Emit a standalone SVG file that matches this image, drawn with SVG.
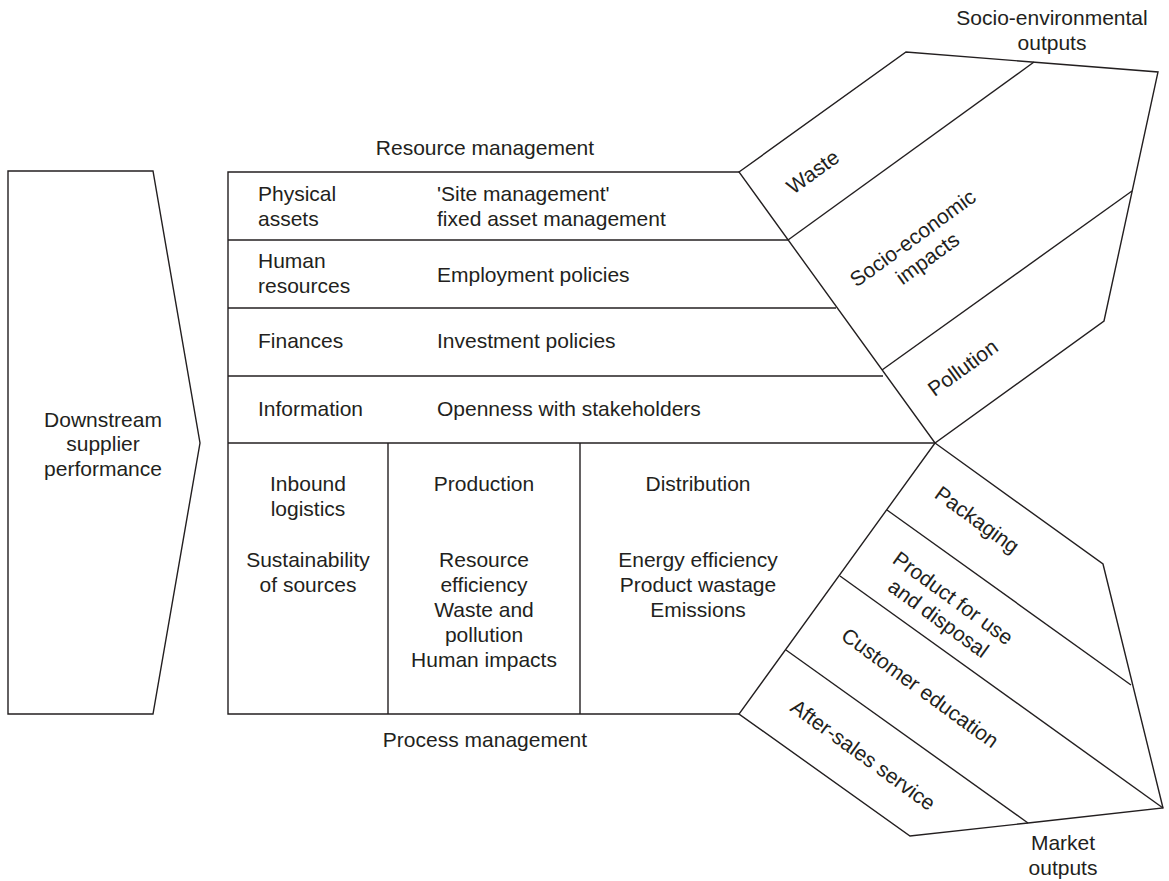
<svg xmlns="http://www.w3.org/2000/svg" width="1169" height="881" viewBox="0 0 1169 881">
<style>
.ln{fill:none;stroke:#231f20;stroke-width:1.4;stroke-linejoin:miter}
.t{font-family:"Liberation Sans",Arial,sans-serif;font-size:21px;fill:#231f20}
.m{text-anchor:middle}
</style>
<rect width="1169" height="881" fill="#fff"/>
<g id="supplier">
<polygon class="ln" points="8,171 153,171 200,443 153,714 8,714"/>
<text class="t m"><tspan x="103" y="427">Downstream</tspan><tspan x="103" y="451">supplier</tspan><tspan x="103" y="476">performance</tspan></text>
</g>
<g id="connectors">
<polyline class="ln" points="739,172 228,172 228,714 739,714"/>
<line class="ln" x1="228" y1="240" x2="788" y2="240"/>
<line class="ln" x1="228" y1="308" x2="836" y2="308"/>
<line class="ln" x1="228" y1="376" x2="883" y2="376"/>
<line class="ln" x1="228" y1="443" x2="935" y2="443"/>
<line class="ln" x1="388" y1="443" x2="388" y2="714"/>
<line class="ln" x1="580" y1="443" x2="580" y2="714"/>
<polygon class="ln" points="739,172 906,52 1158,72 1104,321 935,443"/>
<line class="ln" x1="788" y1="240" x2="1034" y2="62"/>
<line class="ln" x1="882" y1="370" x2="1132" y2="191"/>
<polygon class="ln" points="935,443 1103,564 1163,808 1028,823 910,836 739,714"/>
<line class="ln" x1="887" y1="510" x2="1131" y2="685"/>
<line class="ln" x1="840" y1="576" x2="1163" y2="808"/>
<line class="ln" x1="786" y1="650" x2="1028" y2="823"/>
</g>
<g id="resource-management">
<text class="t m" x="485" y="155">Resource management</text>
</g>
<g id="physical-assets">
<text class="t"><tspan x="258" y="201">Physical</tspan><tspan x="258" y="226">assets</tspan></text>
<text class="t"><tspan x="437" y="201">'Site management'</tspan><tspan x="437" y="226">fixed asset management</tspan></text>
</g>
<g id="human-resources">
<text class="t"><tspan x="258" y="268">Human</tspan><tspan x="258" y="293">resources</tspan></text>
<text class="t" x="437" y="282">Employment policies</text>
</g>
<g id="finances">
<text class="t" x="258" y="348">Finances</text>
<text class="t" x="437" y="348">Investment policies</text>
</g>
<g id="information">
<text class="t" x="258" y="416">Information</text>
<text class="t" x="437" y="416">Openness with stakeholders</text>
</g>
<g id="inbound-logistics">
<text class="t m"><tspan x="308" y="491">Inbound</tspan><tspan x="308" y="516">logistics</tspan><tspan x="308" y="567">Sustainability</tspan><tspan x="308" y="592">of sources</tspan></text>
</g>
<g id="production">
<text class="t m"><tspan x="484" y="491">Production</tspan><tspan x="484" y="567">Resource</tspan><tspan x="484" y="592">efficiency</tspan><tspan x="484" y="617">Waste and</tspan><tspan x="484" y="642">pollution</tspan><tspan x="484" y="667">Human impacts</tspan></text>
</g>
<g id="distribution">
<text class="t m"><tspan x="698" y="491">Distribution</tspan><tspan x="698" y="567">Energy efficiency</tspan><tspan x="698" y="592">Product wastage</tspan><tspan x="698" y="617">Emissions</tspan></text>
</g>
<g id="process-management">
<text class="t m" x="485" y="747">Process management</text>
</g>
<g id="socio-environmental-outputs">
<text class="t m"><tspan x="1052" y="25">Socio-environmental</tspan><tspan x="1052" y="50">outputs</tspan></text>
<text class="t m" transform="translate(813,172) rotate(-36)" x="0" y="7">Waste</text>
<text class="t m" transform="translate(920,248) rotate(-36)"><tspan x="0" y="-5">Socio-economic</tspan><tspan x="0" y="20">impacts</tspan></text>
<text class="t m" transform="translate(963,368) rotate(-36)" x="0" y="7">Pollution</text>
</g>
<g id="market-outputs">
<text class="t m"><tspan x="1063" y="850">Market</tspan><tspan x="1063" y="875">outputs</tspan></text>
<text class="t m" transform="translate(977,520) rotate(36)" x="0" y="7">Packaging</text>
<text class="t m" transform="translate(946,608) rotate(36)"><tspan x="0" y="-5">Product for use</tspan><tspan x="0" y="20">and disposal</tspan></text>
<text class="t m" transform="translate(920,688) rotate(36)" x="0" y="7">Customer education</text>
<text class="t m" transform="translate(863,755) rotate(36)" x="0" y="7">After-sales service</text>
</g>
</svg>
